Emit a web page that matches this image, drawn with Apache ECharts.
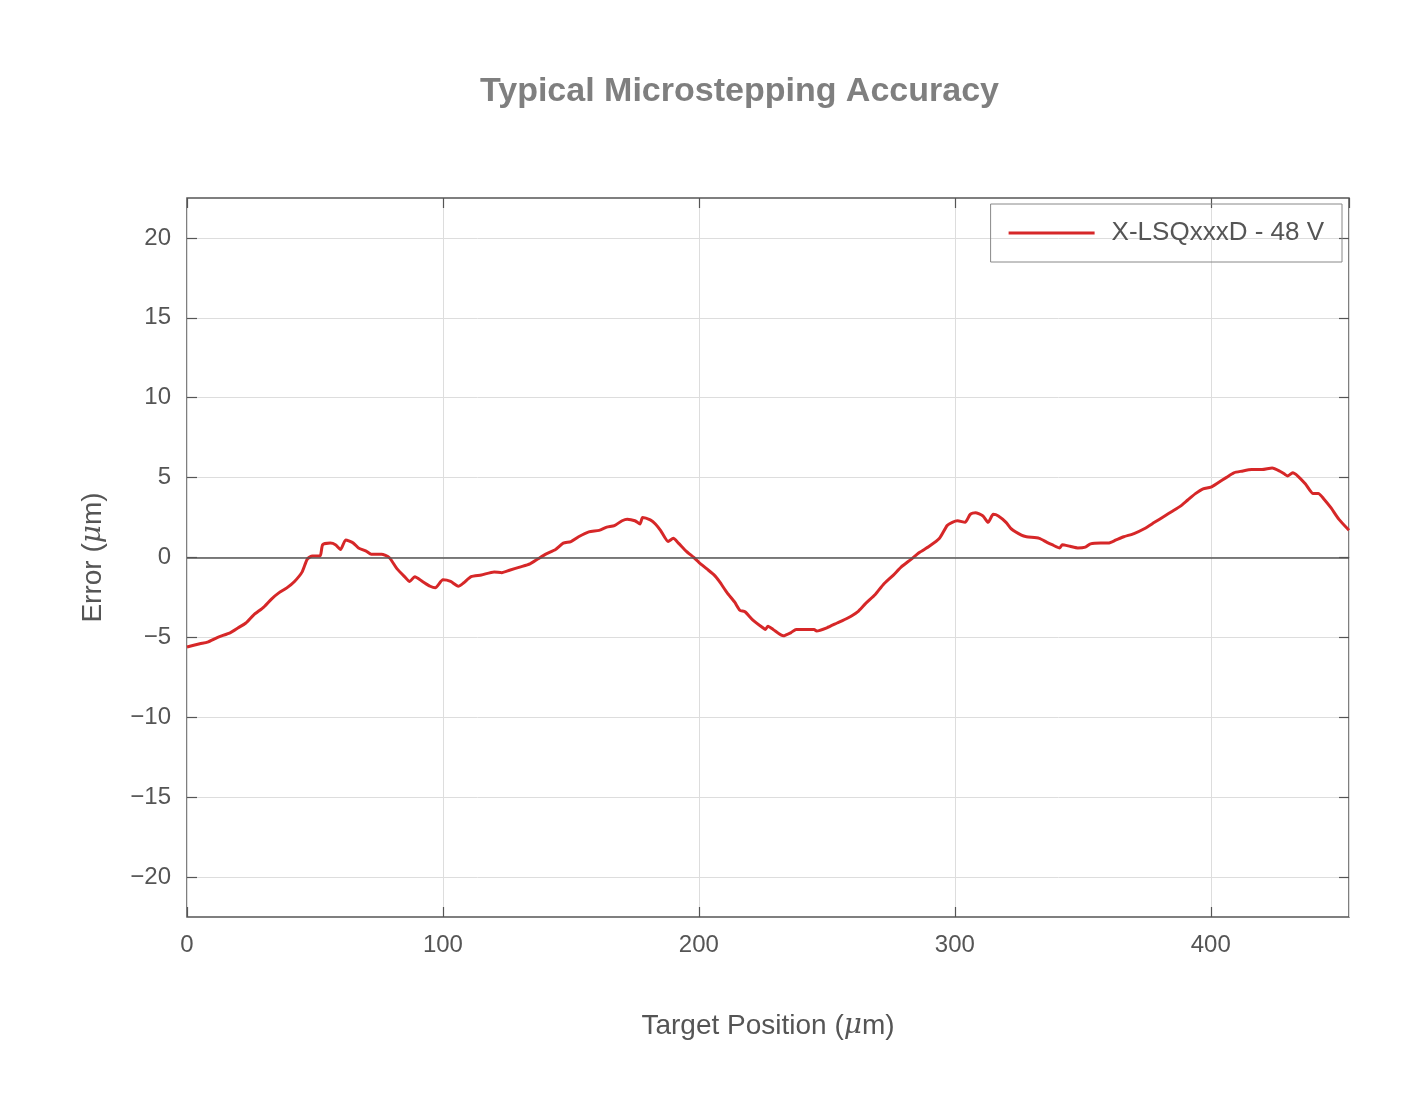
<!DOCTYPE html>
<html>
<head>
<meta charset="UTF-8">
<title>accuracy</title>
<script src="https://cdn.jsdelivr.net/npm/echarts@6/dist/echarts.min.js"></script>
<style>
  *{margin:0;padding:0}
  html,body{width:100%;height:100%;background:#fff}
  #main{width:1424px;height:1117px}
</style>
</head>
<body>
<div id="main"></div>
<script>
var positions = [0,5,8,12,17,20,23,26,30,33,36,39,42,45,47,49,52,53,56,58,60,62,65,67,70,72,76,79,82,85,87,89,92,95,97,100,103,106,108,111,115,120,123,126,130,134,137,140,144,147,150,153,157,161,164,167,170,172,175,177,178,181,183,185,188,190,192,195,198,200,203,206,208,211,214,216,218,221,225,226,227,229,233,236,238,242,245,246,250,254,258,262,265,269,272,276,279,283,286,290,294,297,299,301,304,306,308,311,313,315,317,320,322,326,328,333,336,338,341,342,345,348,351,353,357,360,363,366,370,374,378,382,385,388,391,394,397,400,403,406,409,412,416,420,424,427,429,430,432,434,437,440,442,444,447,450,454];
var errors = [-5.6,-5.4,-5.3,-5.0,-4.7,-4.4,-4.1,-3.6,-3.1,-2.6,-2.2,-1.9,-1.5,-0.9,-0.1,0.1,0.1,0.8,0.9,0.8,0.5,1.1,0.9,0.6,0.4,0.2,0.2,0.0,-0.7,-1.2,-1.5,-1.2,-1.5,-1.8,-1.9,-1.4,-1.5,-1.8,-1.6,-1.2,-1.1,-0.9,-0.95,-0.8,-0.6,-0.4,-0.1,0.2,0.5,0.9,1.0,1.3,1.6,1.7,1.9,2.0,2.3,2.4,2.3,2.1,2.5,2.35,2.1,1.7,1.0,1.2,0.9,0.4,0,-0.3,-0.7,-1.1,-1.5,-2.2,-2.8,-3.3,-3.4,-3.9,-4.4,-4.5,-4.3,-4.5,-4.9,-4.7,-4.5,-4.5,-4.5,-4.6,-4.4,-4.1,-3.8,-3.4,-2.9,-2.3,-1.7,-1.1,-0.6,-0.1,0.3,0.7,1.2,2.0,2.2,2.3,2.2,2.7,2.8,2.6,2.2,2.7,2.6,2.2,1.8,1.4,1.3,1.2,0.95,0.8,0.6,0.8,0.7,0.6,0.65,0.85,0.9,0.9,1.1,1.3,1.5,1.8,2.2,2.6,2.9,3.2,3.6,4.0,4.3,4.4,4.7,5.0,5.3,5.4,5.5,5.5,5.6,5.4,5.2,5.1,5.3,5.1,4.6,4.0,4.0,3.7,3.1,2.4,1.7];
var yTicks = [-20,-15,-10,-5,0,5,10,15,20];

var font = 'Liberation Sans, Arial, sans-serif';
var grey = '#555';
var data = positions.map(function (p, i) { return [p, errors[i]]; });
function minus(v) { return String(v).replace('-', '\u2212'); }

var chart = echarts.init(document.getElementById('main'));
var rich = {i: {fontStyle: 'italic', fontSize: 28, color: grey, fontFamily: 'DejaVu Serif'}};
var tickStyle = {color: '#555', width: 1.2};
chart.setOption({
  animation: false,
  title: {
    text: 'Typical Microstepping Accuracy',
    left: 475, top: 70,
    textStyle: {fontFamily: font, fontSize: 34, fontWeight: 'bold', color: '#7f7f7f'}
  },
  legend: {
    right: 82, top: 204,
    orient: 'vertical',
    padding: [16, 18, 16, 18],
    borderColor: '#888', borderWidth: 1, borderRadius: 0,
    itemWidth: 86, itemHeight: 3,
    textStyle: {fontFamily: font, fontSize: 26, color: grey, padding: [0, 0, 0, 12]},
    data: [{name: 'X-LSQxxxD - 48 V', icon: 'rect'}]
  },
  grid: {left: 187, right: 75, top: 198, bottom: 200, show: true, borderColor: '#555', borderWidth: 1.5},
  xAxis: [{
    type: 'value', min: 0, max: 454, interval: 100,
    name: 'Target Position ({i|μ}m)', nameLocation: 'middle', nameGap: 95,
    nameTextStyle: {fontFamily: font, fontSize: 28, color: grey, rich: rich},
    axisLine: {show: false, onZero: false},
    axisTick: {inside: true, length: 10, lineStyle: tickStyle},
    axisLabel: {fontFamily: font, fontSize: 24, color: grey, margin: 16, showMaxLabel: false},
    splitLine: {lineStyle: {color: '#ddd'}}
  }, {
    type: 'value', min: 0, max: 454, interval: 100, position: 'top',
    axisLine: {show: false, onZero: false}, axisLabel: {show: false}, splitLine: {show: false},
    axisTick: {inside: true, length: 10, lineStyle: tickStyle}
  }],
  yAxis: [{
    type: 'value', min: -22.5, max: 22.5,
    name: 'Error ({i|μ}m)', nameLocation: 'middle', nameGap: 80,
    nameTextStyle: {fontFamily: font, fontSize: 28, color: grey, rich: rich},
    axisLine: {show: false, onZero: false},
    axisTick: {inside: true, length: 10, customValues: yTicks, lineStyle: tickStyle},
    axisLabel: {fontFamily: font, fontSize: 24, color: grey, margin: 16, customValues: yTicks, formatter: minus},
    splitLine: {lineStyle: {color: '#ddd'}}
  }, {
    type: 'value', min: -22.5, max: 22.5, position: 'right',
    axisLine: {show: false, onZero: false}, axisLabel: {show: false}, splitLine: {show: false},
    axisTick: {inside: true, length: 10, customValues: yTicks, lineStyle: tickStyle}
  }],
  series: [{
    name: 'X-LSQxxxD - 48 V',
    type: 'line',
    data: data,
    showSymbol: false,
    smooth: 0.2,
    color: '#d62728',
    lineStyle: {width: 3, color: '#d62728'},
    markLine: {
      silent: true, symbol: 'none', label: {show: false},
      lineStyle: {color: '#555', width: 1.5, type: 'solid'},
      data: [{yAxis: 0}]
    },
    z: 3
  }]
});
</script>
</body>
</html>
